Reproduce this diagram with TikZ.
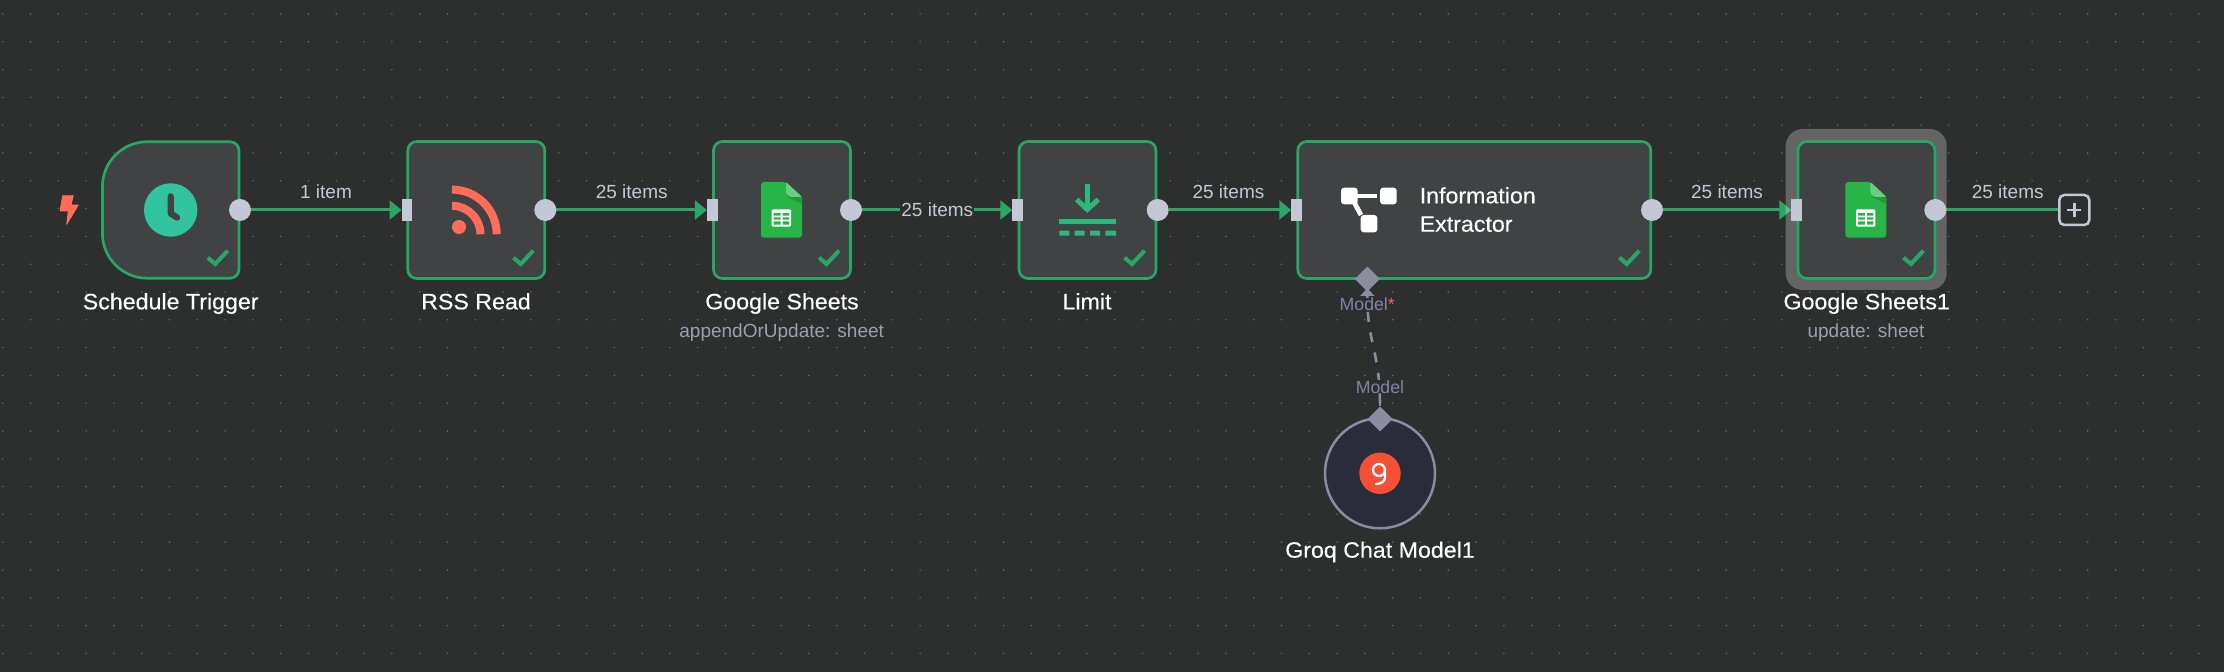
\documentclass[tikz,border=0pt]{standalone}
\usepackage{fontspec}
\setmainfont{Liberation Sans}
\newfontfamily\titlefont[FakeBold=0.3,FakeStretch=1.045]{Liberation Sans}
\usetikzlibrary{arrows.meta,shapes.geometric}
\definecolor{bgc}{HTML}{2D2E2E}
\definecolor{dotc}{HTML}{6A6B6B}
\definecolor{nodec}{HTML}{414244}
\definecolor{greenc}{HTML}{29A568}
\definecolor{portc}{HTML}{C4C8D4}
\definecolor{labelc}{HTML}{C4C8D4}
\definecolor{subc}{HTML}{9AA0AE}
\definecolor{modelc}{HTML}{7F84A6}
\definecolor{aic}{HTML}{8A8CA0}
\definecolor{rssc}{HTML}{FF6D5A}
\definecolor{clockc}{HTML}{31C49F}
\definecolor{limitc}{HTML}{2DB77C}
\definecolor{sheetc}{HTML}{28B446}
\definecolor{foldc}{HTML}{6ACE82}
\definecolor{folddark}{HTML}{219B38}
\definecolor{groqc}{HTML}{F55036}
\definecolor{groqbg}{HTML}{2A2C3A}
\definecolor{starc}{HTML}{FF5D5D}
\pgfdeclarelayer{canvaslayer}
\pgfdeclarelayer{halolayer}
\pgfsetlayers{canvaslayer,halolayer,main}
\tikzset{
  nodebox/.style={draw=greenc,fill=nodec,line width=1.35pt,rounded corners=4.5pt,minimum width=68.5pt,minimum height=68.5pt,inner sep=0pt,outer sep=0pt},
  widebox/.style={nodebox,minimum width=176.5pt},
  blankbox/.style={minimum width=68.5pt,minimum height=68.5pt,inner sep=0pt,outer sep=0pt},
  outport/.style={circle,fill=portc,minimum size=11pt,inner sep=0pt,outer sep=0pt},
  inport/.style={rectangle,fill=portc,minimum width=5.4pt,minimum height=11pt,inner sep=0pt,outer sep=0pt},
  edgeline/.style={draw=greenc,line width=1.5pt,-{Triangle[length=6pt,width=9.4pt]}},
  edgeplain/.style={draw=greenc,line width=1.5pt},
  title/.style={font=\titlefont\fontsize{11.1}{13}\selectfont,text=white,anchor=base,inner sep=0pt},
  subtitle/.style={font=\fontsize{9.5}{11}\selectfont,text=subc,anchor=base,inner sep=0pt},
  edgelabel/.style={font=\fontsize{9.5}{11}\selectfont,text=labelc,anchor=base,inner sep=0pt},
  edgelabelon/.style={edgelabel,fill=bgc,inner xsep=.6pt,inner ysep=1pt},
  modellabel/.style={font=\fontsize{8.85}{11}\selectfont,text=modelc,inner sep=0pt,fill=bgc},
  checkmark/.style={draw=greenc,line width=2.05pt},
  aidiamond/.style={diamond,fill=aic,minimum width=12.5pt,minimum height=12.5pt,inner sep=0pt,outer sep=0pt},
}
\newcommand{\okmark}[1]{\begin{scope}[shift={(#1.south east)}]\draw[checkmark] (-31.4,-20.8) -- (-24,-14.5) -- (-11.5,-27.8);\end{scope}}
\newcommand{\sheeticon}[1]{\begin{scope}[shift={(#1)}]
  \fill[sheetc,rounded corners=1.5pt] (-21,-28) -- (4,-28) -- (20,-13) -- (20,27.7) -- (-21,27.7) -- cycle;
  \fill[folddark] (5,-13) -- (20,-13) -- (20,-6) -- cycle;
  \fill[foldc,rounded corners=.6pt] (4,-28) -- (20,-13) -- (8,-13) -- (4,-17) -- cycle;
  \fill[white,rounded corners=.6pt] (-10.3,-.7) rectangle (9,16.7);
  \fill[sheetc] (-8.3,3.2) rectangle (-1.5,5.6) (.6,3.2) rectangle (7,5.6)
                (-8.3,7.4) rectangle (-1.5,9.6) (.6,7.4) rectangle (7,9.6)
                (-8.3,11.4) rectangle (-1.5,14.6) (.6,11.4) rectangle (7,14.6);
\end{scope}}
\begin{document}
\begin{tikzpicture}[x=.5pt,y=-.5pt]
\useasboundingbox (0,0) rectangle (2224,672);
\begin{pgfonlayer}{canvaslayer}
\fill[bgc] (0,0) rectangle (2224,672);
\foreach \i in {0,...,79}{\foreach \j in {0,...,23}{
  \fill[dotc] ({2.7+27.8*\i},{14+27.8*\j}) circle (.42pt);
}}
\end{pgfonlayer}
% selection halo
\begin{pgfonlayer}{halolayer}
\fill[white,opacity=.257,rounded corners=8.5pt] (1785.7,129) rectangle (1946.7,290);
\end{pgfonlayer}
% trigger bolt
\path[fill=rssc,draw=rssc,line width=.4pt,line join=round] (62.7,195.7) -- (73.3,195.7) -- (71,205) -- (78.3,205) -- (66.7,224.3) -- (68.3,211) -- (60,211) -- cycle;
% schedule trigger
\node[blankbox] (sched) at (170.7,210) {};
\draw[draw=greenc,fill=nodec,line width=1.35pt] (147.4,141.75) -- (230,141.75) .. controls (235,141.75) and (239,145.75) .. (239,150.75) -- (239,269.25) .. controls (239,274.25) and (235,278.25) .. (230,278.25) -- (147.4,278.25) .. controls (122.5,278.25) and (102.4,258.1) .. (102.4,233.25) -- (102.4,186.75) .. controls (102.4,161.9) and (122.5,141.75) .. (147.4,141.75) -- cycle;
\fill[clockc] (170.7,210) circle (13.35pt);
\draw[nodec,line width=3.2pt,line cap=round,line join=round] (170.7,196.5) -- (170.7,213.5) -- (177,217.5);
% rss read
\node[nodebox] (rss) at (476.3,210) {};
\fill[rssc] (459,227) circle (3.5pt);
\draw[rssc,line width=4pt] (452,189.6) .. controls (476.7,189.6) and (496.7,209.6) .. (496.7,234.3);
\draw[rssc,line width=4pt] (452,205.8) .. controls (467.7,205.8) and (480.5,218.6) .. (480.5,234.3);
% google sheets
\node[nodebox] (gs) at (782,210) {};
\sheeticon{gs}
% limit
\node[nodebox] (lim) at (1087.5,210) {};
\draw[limitc,line width=2.5pt] (1087.3,184.3) -- (1087.3,208);
\draw[limitc,line width=2.5pt] (1076.7,199.5) -- (1087.3,209.5) -- (1098.3,199.5);
\fill[limitc] (1059.3,219) rectangle (1116,224.3);
\fill[limitc] (1059.3,230.7) rectangle (1069.3,235.7) (1074.7,230.7) rectangle (1084.7,235.7) (1090,230.7) rectangle (1100,235.7) (1105.3,230.7) rectangle (1116,235.7);
% information extractor
\node[widebox] (ie) at (1474.3,210) {};
\fill[white,rounded corners=1.5pt] (1341,187.7) rectangle (1357.7,204.3);
\fill[white,rounded corners=1.5pt] (1380,187.7) rectangle (1396.7,204.3);
\fill[white,rounded corners=1.5pt] (1360.7,215) rectangle (1377.3,232.3);
\draw[white,line width=2.4pt] (1355,196) -- (1377,196);
\draw[white,line width=2.4pt] (1354,202) -- (1361,215);
\node[title,anchor=base west] (ie1) at (1419.3,203.3) {Information};
\node[title,anchor=base west] (ie2) at (1419.3,231.7) {Extractor};
% google sheets 1
\node[nodebox] (gs1) at (1866.4,210) {};
\sheeticon{gs1}
% check marks
\okmark{sched}
\okmark{rss}
\okmark{gs}
\okmark{lim}
\okmark{ie}
\okmark{gs1}
% ports
\node[outport] (o1) at (240,210) {};
\node[inport] (i2) at (407,210) {};
\node[outport] (o2) at (545.3,210) {};
\node[inport] (i3) at (712.3,210) {};
\node[outport] (o3) at (851,210) {};
\node[inport] (i4) at (1017.8,210) {};
\node[outport] (o4) at (1157.7,210) {};
\node[inport] (i5) at (1296.7,210) {};
\node[outport] (o5) at (1652,210) {};
\node[inport] (i6) at (1796.7,210) {};
\node[outport] (o6) at (1935.3,210) {};
\node[draw=portc,fill=bgc,line width=1.25pt,rounded corners=2.5pt,minimum size=15pt,inner sep=0pt,outer sep=0pt] (plus) at (2074.3,210) {};
\draw[portc,line width=1.2pt] (2067.3,210) -- (2081.3,210) (2074.3,203) -- (2074.3,217);
% connectors and their labels, under the boxes
\begin{pgfonlayer}{canvaslayer}
\draw[edgeline] (o1) -- (i2);
\draw[edgeline] (o2) -- (i3);
\draw[edgeline] (o3) -- (i4);
\draw[edgeline] (o4) -- (i5);
\draw[edgeline] (o5) -- (i6);
\draw[edgeplain] (o6) -- (plus);
\node[edgelabel] (l1) at (326,198.3) {1 item};
\node[edgelabel] (l2) at (631.7,198.3) {25 items};
\node[edgelabelon] (l3) at (937.3,216.7) {25 items};
\node[edgelabel] (l4) at (1228.5,198.3) {25 items};
\node[edgelabel] (l5) at (1727,198.3) {25 items};
\node[edgelabel] (l6) at (2007.7,198.3) {25 items};
\end{pgfonlayer}
% titles
\node[title] (t1) at (170.7,309.3) {Schedule Trigger};
\node[title] (t2) at (476,309.3) {RSS Read};
\node[title] (t3) at (782,309.3) {Google Sheets};
\node[subtitle] (s3) at (781.7,337.3) {appendOrUpdate: sheet};
\node[title] (t4) at (1087,309.3) {Limit};
\node[title] (t6) at (1866.7,309.3) {Google Sheets1};
\node[subtitle] (s6) at (1866,337.3) {update: sheet};
% groq node
\node[circle,draw=aic,fill=groqbg,line width=1.25pt,minimum size=55pt,inner sep=0pt,outer sep=0pt] (groq) at (1380,473.3) {};
\node[circle,fill=groqc,minimum size=20.7pt,inner sep=0pt,outer sep=0pt] (gi) at (groq) {};
\draw[white,line width=1.15pt,line cap=round] (1373,470) .. controls (1373,466.7) and (1375.7,464) .. (1379,464) .. controls (1382.3,464) and (1385,466.7) .. (1385,470) .. controls (1385,473.3) and (1382.3,476) .. (1379,476) .. controls (1375.7,476) and (1373,473.3) .. (1373,470) (1385,470) -- (1385,477.5) .. controls (1385,481.5) and (1381,484) .. (1376,484);
\node[title] (t7) at (1380,557.7) {Groq Chat Model1};
% AI model connection
\coordinate (mtip) at (1367.3,288);
\node[aidiamond] (gdia) at (1380,419) {};
\draw[aic,line width=1.3pt,dash pattern=on 5pt off 5.3pt,dash phase=2pt,{Triangle[length=3.9pt,width=6.7pt]}-] (mtip) .. controls (1367.3,345) and (1380,350) .. (gdia.north);
\node[modellabel,anchor=base west] (m1) at (1339.3,310.7) {Model{\color{starc}*}};
\node[modellabel,anchor=base] (m2) at (1380,393.3) {Model};
\draw[aic,line width=1.3pt] (gdia.north) -- (1380,397);
\node[aidiamond] (mdia) at (1367.3,279) {};
\end{tikzpicture}
\end{document}
